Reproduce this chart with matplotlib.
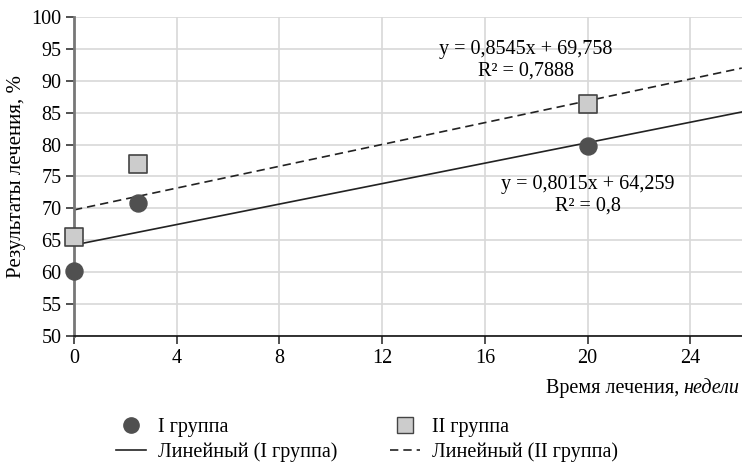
import numpy as np
import matplotlib
matplotlib.use('Agg')
from matplotlib import pyplot as plt
from matplotlib.lines import Line2D

# data
weeks = [0, 2.5, 20]
group1 = [60.2, 70.9, 79.8]
group2 = [65.5, 77.0, 86.3]
trend1 = (0.8015, 64.259)   # slope, intercept
trend2 = (0.8545, 69.758)
eq1 = ['y = 0,8015x + 64,259', 'R² = 0,8']
eq2 = ['y = 0,8545x + 69,758', 'R² = 0,7888']
x_ticks = [0, 4, 8, 12, 16, 20, 24]
y_ticks = list(range(50, 101, 5))

plt.rcParams['font.family'] = ['Liberation Serif', 'DejaVu Serif']

fig = plt.figure(figsize=(7.42, 4.68), dpi=100)
ax = fig.add_axes([0.0997, 0.282, 0.9, 0.682])

xs = np.array([0, 26])
ax.plot(xs, trend1[0]*xs + trend1[1], color='#222222', lw=1.2, zorder=2)
ax.plot(xs, trend2[0]*xs + trend2[1], color='#222222', lw=1.2, ls=(0, (5, 3)), zorder=2)
ax.scatter(weeks, group1, s=150, marker='o', color='#505050', zorder=4, clip_on=False)
ax.scatter(weeks, group2, s=180, marker='s', facecolor='#cccccc', edgecolor='#444444',
           linewidth=1.2, zorder=4, clip_on=False)

ax.set_xlim(0, 26)
ax.set_ylim(50, 100)
ax.set_xticks(x_ticks)
ax.set_yticks(y_ticks)
ax.grid(True, color='#d8d8d8', lw=1.2)
ax.set_axisbelow(True)
for s in ['top', 'right']:
    ax.spines[s].set_visible(False)
ax.spines['left'].set_color('#777777')
ax.spines['left'].set_linewidth(2)
ax.spines['bottom'].set_color('#111111')
ax.spines['bottom'].set_linewidth(1.2)
ax.tick_params(axis='both', labelsize=14.5, length=6, width=1.2, color='#333333', pad=3)

ax.text(17.6, 93.2, eq2[0] + '\n' + eq2[1], ha='center', va='center', fontsize=14.5, linespacing=1.2)
ax.text(20.0, 72.0, eq1[0] + '\n' + eq1[1], ha='center', va='center', fontsize=14.5, linespacing=1.2)

ax.set_ylabel('Результаты лечения, %', fontsize=15, labelpad=4)
fig.text(0.997, 0.17, 'Время лечения, ', ha='right', va='center', fontsize=14.5)
# italic unit after the plain part
t = fig.text(0.997, 0.17, 'недели', ha='right', va='center', fontsize=14.5, style='italic')
fig.canvas.draw()
bb = t.get_window_extent()
fig.texts[-2].set_position((bb.x0 / fig.bbox.width, 0.17))

handles = [
    Line2D([], [], marker='o', ls='none', color='#505050', markersize=11),
    Line2D([], [], color='#222222', lw=1.2),
    Line2D([], [], marker='s', ls='none', markerfacecolor='#cccccc', markeredgecolor='#444444', markersize=11),
    Line2D([], [], color='#222222', lw=1.2, ls=(0, (5, 3))),
]
labels = ['I группа', 'Линейный (I группа)', 'II группа', 'Линейный (II группа)']
fig.legend(handles, labels, ncol=2, loc='center', bbox_to_anchor=(0.495, 0.06),
           frameon=False, fontsize=14.5, columnspacing=2.6, handlelength=1.5,
           handletextpad=0.6, labelspacing=0.25)

fig.savefig('out.png', dpi=100)
